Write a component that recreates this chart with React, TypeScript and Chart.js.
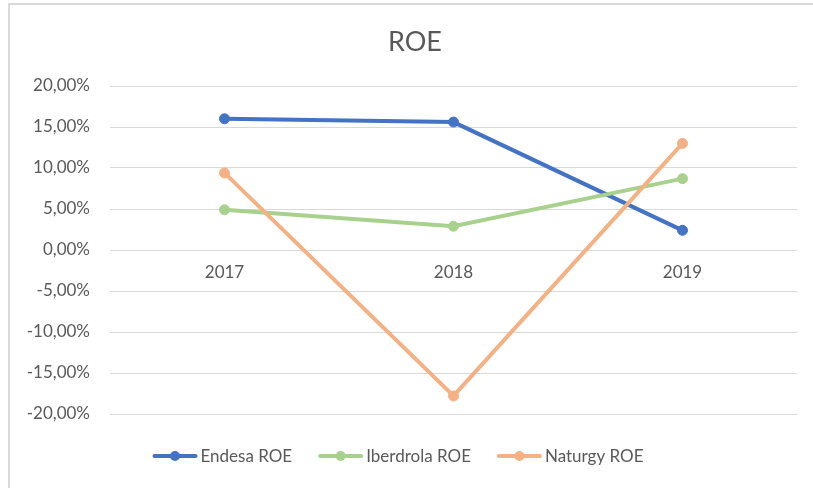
import React, { useEffect, useRef } from 'react';
import { Chart, registerables } from 'chart.js';

Chart.register(...registerables);

// ---- data ----
const categories = ['2017', '2018', '2019'];
const endesaROE = [0.16, 0.156, 0.024];
const iberdrolaROE = [0.049, 0.029, 0.087];
const naturgyROE = [0.094, -0.178, 0.13];
const seriesNames = ['Endesa ROE', 'Iberdrola ROE', 'Naturgy ROE'];
const chartTitle = 'ROE';
const yMin = -0.2;
const yMax = 0.2;
const yStep = 0.05;

// ---- styles ----
const FONT = 'Lato, "Open Sans", sans-serif';
const TEXT = '#595959';
const GRID = '#d9d9d9';
const COLORS = ['#4472C4', '#A9D18E', '#F4B183'];

const fmtPct = (v: number) => {
  const x = Math.abs(v) < 1e-9 ? 0 : v;
  return (x * 100).toFixed(2).replace('.', ',') + '%';
};

// let the y-axis labels use the whole left margin (avoid clipping of the minus sign)
const labelAreaPlugin = {
  id: 'yLabelArea',
  afterLayout(chart: any) {
    if (chart.scales.y) chart.scales.y.left = 0;
  },
};

const legendPlugin = {
  id: 'excelLegend',
  afterDraw(chart: any) {
    const ctx = chart.ctx as CanvasRenderingContext2D;
    ctx.save();
    ctx.font = `17px ${FONT}`;
    const lineLen = 45;
    const gap = 3;
    const spacing = 26;
    const items = chart.data.datasets.map((ds: any) => ({
      label: ds.label as string,
      color: ds.borderColor as string,
      w: ctx.measureText(ds.label).width,
    }));
    const total =
      items.reduce((s: number, it: any) => s + lineLen + gap + it.w, 0) + spacing * (items.length - 1);
    let x = 398 - total / 2;
    const y = 456;
    items.forEach((it: any) => {
      ctx.strokeStyle = it.color;
      ctx.lineWidth = 4;
      ctx.lineCap = 'round';
      ctx.beginPath();
      ctx.moveTo(x + 2, y);
      ctx.lineTo(x + lineLen - 2, y);
      ctx.stroke();
      ctx.fillStyle = it.color;
      ctx.beginPath();
      ctx.arc(x + lineLen / 2, y, 5, 0, Math.PI * 2);
      ctx.fill();
      ctx.fillStyle = TEXT;
      ctx.textBaseline = 'middle';
      ctx.textAlign = 'left';
      ctx.fillText(it.label, x + lineLen + gap, y + 1);
      x += lineLen + gap + it.w + spacing;
    });
    ctx.restore();
  },
};

export default function App() {
  const ref = useRef<HTMLCanvasElement | null>(null);

  useEffect(() => {
    if (!ref.current) return;
    const series = [endesaROE, iberdrolaROE, naturgyROE];
    const chart = new Chart(ref.current, {
      type: 'line',
      data: {
        labels: categories,
        datasets: series.map((d, i) => ({
          label: seriesNames[i],
          data: d,
          borderColor: COLORS[i],
          backgroundColor: COLORS[i],
          borderWidth: 4,
          pointRadius: 5,
          pointBorderWidth: 1,
          pointBackgroundColor: COLORS[i],
          pointBorderColor: COLORS[i],
          tension: 0,
          fill: false,
          order: 3 - i,
        })),
      },
      options: {
        responsive: false,
        animation: false,
        layout: { padding: { left: 33, right: 16, top: 0, bottom: 74 } },
        plugins: {
          legend: { display: false },
          tooltip: { enabled: false },
          title: {
            display: true,
            text: chartTitle,
            color: TEXT,
            font: { family: FONT, size: 27, weight: 'normal', lineHeight: 1.2 },
            padding: { top: 25.8, bottom: 27.8 },
          },
        },
        scales: {
          x: {
            type: 'category',
            position: { y: 0 } as any,
            offset: true,
            grid: { display: false, drawTicks: false },
            border: { display: false },
            ticks: {
              color: TEXT,
              font: { family: FONT, size: 17 },
              padding: 12,
              maxRotation: 0,
            },
          },
          y: {
            min: yMin,
            max: yMax,
            afterFit: (scale: any) => {
              scale.width = 77;
            },
            grid: { color: GRID, lineWidth: 1, drawTicks: false },
            border: { display: false },
            ticks: {
              stepSize: yStep,
              color: TEXT,
              font: { family: FONT, size: 17 },
              padding: 20,
              callback: (v: any) => fmtPct(Number(v)),
            },
          },
        },
      },
      plugins: [labelAreaPlugin, legendPlugin],
    });
    return () => chart.destroy();
  }, []);

  return (
    <div
      style={{
        position: 'fixed',
        left: 0,
        top: 0,
        width: 813,
        height: 488,
        overflow: 'hidden',
        background: '#ffffff',
      }}
    >
      <div
        style={{
          position: 'absolute',
          left: 8,
          top: 3,
          width: 840,
          height: 540,
          border: `2px solid ${GRID}`,
          boxSizing: 'border-box',
        }}
      />
      <canvas
        ref={ref}
        width={813}
        height={488}
        style={{ position: 'absolute', left: 0, top: 0, width: 813, height: 488 }}
      />
    </div>
  );
}
